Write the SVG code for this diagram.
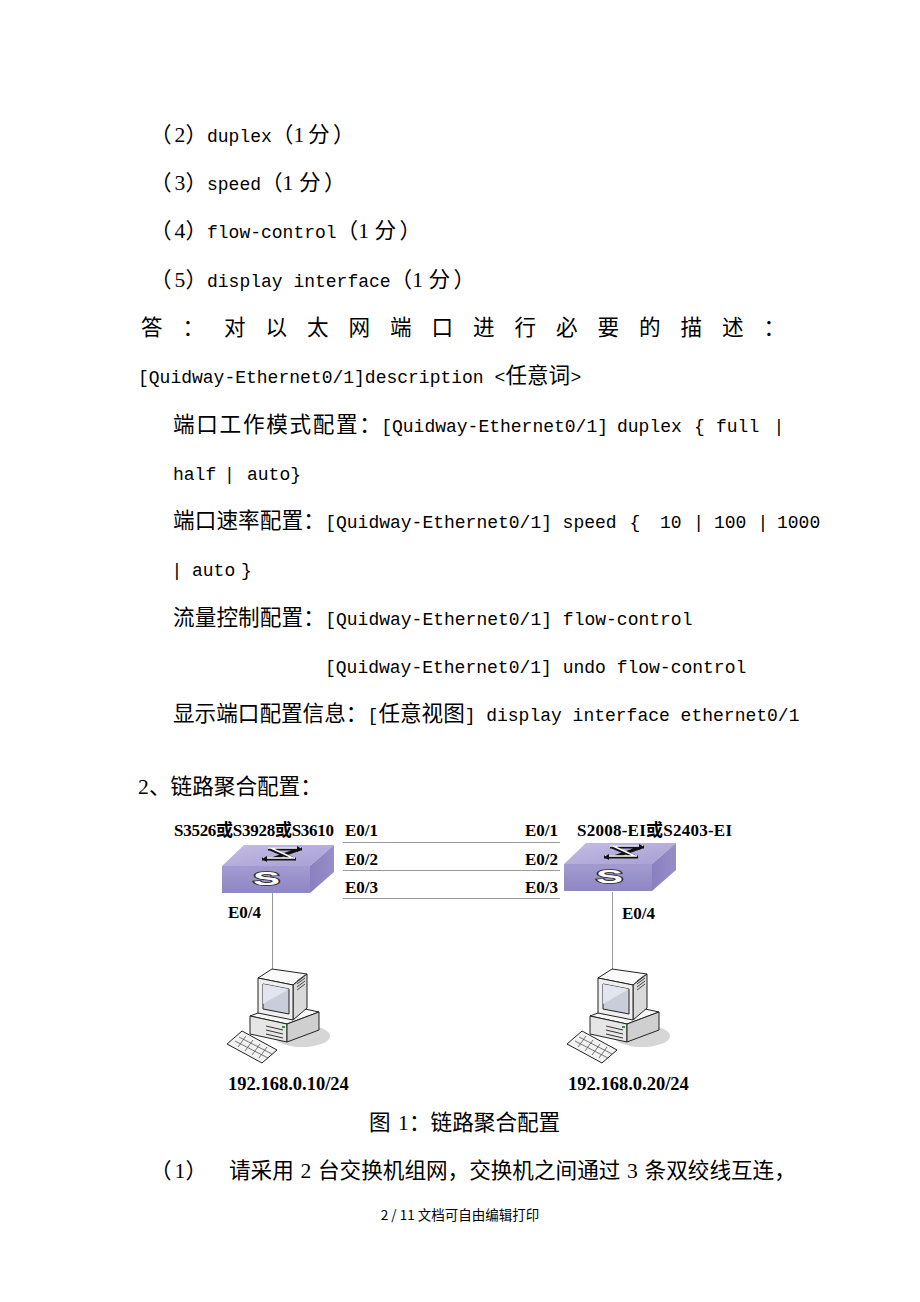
<svg xmlns="http://www.w3.org/2000/svg" xmlns:xlink="http://www.w3.org/1999/xlink" width="920" height="1302" viewBox="0 0 920 1302">
<style>
.c{font-family:"Noto Sans CJK SC","Noto Sans",sans-serif;font-size:21.6px;fill:#000}
.m{font-family:"Liberation Mono","Noto Sans CJK SC",monospace;font-size:18px;fill:#000}
.d{font-family:"Liberation Serif",serif;font-size:21.6px;fill:#000}
.b{font-family:"Liberation Serif","Noto Sans CJK SC",serif;font-weight:bold;font-size:17px;fill:#000}
.ip{font-size:18.5px}
.ft{font-family:"Noto Sans CJK SC","Noto Sans",sans-serif;font-size:13.5px;fill:#000}
.s{font-family:"Liberation Sans",sans-serif;font-weight:bold;font-size:18px;fill:#fff;stroke:#2a2a2a;stroke-width:1.6;paint-order:stroke}
.ln{stroke:#9a9a9a;stroke-width:1;fill:none}
.k{stroke:#222;stroke-width:1;stroke-linejoin:round}
</style>
<defs>
<linearGradient id="gTop" x1="0" y1="0" x2="1" y2="1">
<stop offset="0" stop-color="#c4bde4"/><stop offset="1" stop-color="#a79ed3"/>
</linearGradient>
<linearGradient id="gFront" x1="0" y1="0" x2="0" y2="1">
<stop offset="0" stop-color="#a39bd0"/><stop offset="1" stop-color="#8f86c4"/>
</linearGradient>
<linearGradient id="gSide" x1="0" y1="0" x2="1" y2="0">
<stop offset="0" stop-color="#8a80bf"/><stop offset="1" stop-color="#978ec8"/>
</linearGradient>
<g id="sw">
<polygon points="0,0 22,-21 112,-21 88,0" fill="url(#gTop)"/>
<rect x="0" y="0" width="88" height="27" fill="url(#gFront)"/>
<polygon points="88,0 112,-21 112,6 88,27" fill="url(#gSide)"/>
<path d="M46,-17 L80,-17 M78,-17 L50,-7 M40,-7 L74,-7 M48,-17 L72,-7" stroke="#111" stroke-width="3" fill="none"/>
<path d="M46,-18 L79,-18 M41,-8 L73,-8 M49,-18 L71,-8" stroke="#fff" stroke-width="1.5" fill="none"/>
<polygon points="80,-17 75,-20 75,-14" fill="#111"/>
<polygon points="40,-7 45,-10 45,-4" fill="#111"/>
</g>
<g id="pc">
<ellipse cx="302" cy="1036" rx="28" ry="11" fill="#d6d6d6"/>
<polygon class="k" points="250,1016 282,1004 319,1012 287,1024" fill="#f7f7f7"/>
<polygon class="k" points="250,1016 287,1024 287,1042 250,1034" fill="#e6e6e6"/>
<polygon class="k" points="287,1024 319,1012 319,1030 287,1042" fill="#cfcfcf"/>
<path d="M266,1026 L283,1030 M266,1030 L283,1034 M266,1034 L283,1038" stroke="#333" stroke-width="1"/>
<rect x="282" y="1026" width="3" height="2" fill="#2a9a3a"/>
<polygon class="k" points="258,978 272,969 307,974 293,985" fill="#fafafa"/>
<polygon class="k" points="293,985 307,974 307,1008 293,1020" fill="#d9d9d9"/>
<path d="M297,981 L305,975 M297,984 L305,978 M297,987 L305,981 M297,990 L305,984" stroke="#444" stroke-width="1"/>
<polygon class="k" points="258,978 293,985 293,1020 258,1013" fill="#efefef"/>
<polygon class="k" points="263,984 289,989 289,1014 263,1009" fill="#c9cdd9"/>
<polygon points="263,984 289,989 263,1004" fill="#e2e5ee"/>
<polygon class="k" points="227,1044 242,1031 277,1050 262,1063" fill="#f2f2f2"/>
<path d="M235,1041 L268,1058 M239,1037 L272,1054 M246,1036 L238,1047 M253,1040 L245,1051 M260,1044 L252,1055 M267,1047 L259,1058" stroke="#555" stroke-width="0.8"/>
</g>
</defs>

<g id="text">
<text y="142"><tspan class="c" x="150">（</tspan><tspan class="d" x="174.5">2</tspan><tspan class="c" x="185.4">）</tspan><tspan class="m" x="207">duplex</tspan><tspan class="c" x="271.8">（</tspan><tspan class="d" x="293.4">1</tspan><tspan class="c" x="308">分</tspan><tspan class="c" x="333">）</tspan></text>
<text y="190"><tspan class="c" x="150">（</tspan><tspan class="d" x="174.5">3</tspan><tspan class="c" x="185.4">）</tspan><tspan class="m" x="207">speed</tspan><tspan class="c" x="261">（</tspan><tspan class="d" x="282.6">1</tspan><tspan class="c" x="299">分</tspan><tspan class="c" x="324">）</tspan></text>
<text y="238"><tspan class="c" x="150">（</tspan><tspan class="d" x="174.5">4</tspan><tspan class="c" x="185.4">）</tspan><tspan class="m" x="207">flow-control</tspan><tspan class="c" x="336.6">（</tspan><tspan class="d" x="358.2">1</tspan><tspan class="c" x="374.6">分</tspan><tspan class="c" x="399.6">）</tspan></text>
<text y="287"><tspan class="c" x="150">（</tspan><tspan class="d" x="174.5">5</tspan><tspan class="c" x="185.4">）</tspan><tspan class="m" x="207">display interface</tspan><tspan class="c" x="390.6">（</tspan><tspan class="d" x="412.2">1</tspan><tspan class="c" x="428.6">分</tspan><tspan class="c" x="453.6">）</tspan></text>
<text class="c" x="141" y="335" letter-spacing="19.9">答：对以太网端口进行必要的描述：</text>
<text y="383"><tspan class="m" x="138">[Quidway-Ethernet0/1]description &lt;</tspan><tspan class="c" x="505.4">任意词</tspan><tspan class="m" x="570.4">&gt;</tspan></text>
<text y="432"><tspan class="c" x="173" letter-spacing="1.7">端口工作模式配置：</tspan><tspan class="m" x="381.2">[Quidway-Ethernet0/1]</tspan><tspan class="m" x="617">duplex</tspan><tspan class="m" x="694">{</tspan><tspan class="m" x="716">full</tspan><tspan class="m" x="773.6">|</tspan></text>
<text y="480"><tspan class="m" x="173">half</tspan><tspan class="m" x="224">|</tspan><tspan class="m" x="247">auto}</tspan></text>
<text y="528"><tspan class="c" x="173" letter-spacing="0.1">端口速率配置：</tspan><tspan class="m" x="325.2">[Quidway-Ethernet0/1]</tspan><tspan class="m" x="562.6">speed</tspan><tspan class="m" x="629.5">{</tspan><tspan class="m" x="660">10</tspan><tspan class="m" x="693.2">|</tspan><tspan class="m" x="714">100</tspan><tspan class="m" x="757.6">|</tspan><tspan class="m" x="777">1000</tspan></text>
<text y="576"><tspan class="m" x="171.6">|</tspan><tspan class="m" x="192">auto</tspan><tspan class="m" x="241">}</tspan></text>
<text y="625"><tspan class="c" x="173" letter-spacing="0.1">流量控制配置：</tspan><tspan class="m" x="325.2">[Quidway-Ethernet0/1] flow-control</tspan></text>
<text y="673"><tspan class="m" x="325">[Quidway-Ethernet0/1] undo flow-control</tspan></text>
<text y="721"><tspan class="c" x="173">显示端口配置信息：</tspan><tspan class="m" x="367.6">[</tspan><tspan class="c" x="378.4">任意视图</tspan><tspan class="m" x="464.8">]</tspan><tspan class="m" x="486.2">display interface ethernet0/1</tspan></text>
<text y="794"><tspan class="d" x="138">2</tspan><tspan class="c" x="149">、链路聚合配置：</tspan></text>
<text y="1130"><tspan class="c" x="369">图</tspan><tspan class="d" x="398">1</tspan><tspan class="c" x="409">：链路聚合配置</tspan></text>
<text y="1178"><tspan class="c" x="150">（</tspan><tspan class="d" x="174.5">1</tspan><tspan class="c" x="185.4">）</tspan><tspan class="c" x="229">请采用</tspan><tspan class="d" x="300.5">2</tspan><tspan class="c" x="318">台交换机组网，交换机之间通过</tspan><tspan class="d" x="627.1">3</tspan><tspan class="c" x="644.6">条双绞线互连，</tspan></text>
<text class="ft" x="460" y="1220" text-anchor="middle">2 / 11 文档可自由编辑打印</text>
</g>

<g id="connectors">
<line class="ln" x1="343" y1="842.5" x2="560" y2="842.5"/>
<line class="ln" x1="343" y1="870.5" x2="560" y2="870.5"/>
<line class="ln" x1="343" y1="898.5" x2="560" y2="898.5"/>
<line class="ln" x1="272.5" y1="893" x2="272.5" y2="973"/>
<line class="ln" x1="612.5" y1="892" x2="612.5" y2="973"/>
</g>

<g id="switch-left">
<use xlink:href="#sw" href="#sw" transform="translate(222,866)"/>
<text class="s" x="253" y="885" textLength="27" lengthAdjust="spacingAndGlyphs">S</text>
<text class="b" x="174" y="836" textLength="160" lengthAdjust="spacing">S3526或S3928或S3610</text>
<text class="b" x="228" y="918">E0/4</text>
</g>

<g id="switch-right">
<use xlink:href="#sw" href="#sw" transform="translate(564,864)"/>
<text class="s" x="596" y="883" textLength="27" lengthAdjust="spacingAndGlyphs">S</text>
<text class="b" x="577" y="836" textLength="155" lengthAdjust="spacing">S2008-EI或S2403-EI</text>
<text class="b" x="622" y="919">E0/4</text>
</g>

<g id="port-labels">
<text class="b" x="345" y="836">E0/1</text>
<text class="b" x="345" y="865">E0/2</text>
<text class="b" x="345" y="893">E0/3</text>
<text class="b" x="558" y="836" text-anchor="end">E0/1</text>
<text class="b" x="558" y="865" text-anchor="end">E0/2</text>
<text class="b" x="558" y="893" text-anchor="end">E0/3</text>
</g>

<g id="pc-left">
<use xlink:href="#pc" href="#pc"/>
<text class="b ip" x="228" y="1090">192.168.0.10/24</text>
</g>

<g id="pc-right">
<use xlink:href="#pc" href="#pc" transform="translate(340,0)"/>
<text class="b ip" x="568" y="1090">192.168.0.20/24</text>
</g>
</svg>
